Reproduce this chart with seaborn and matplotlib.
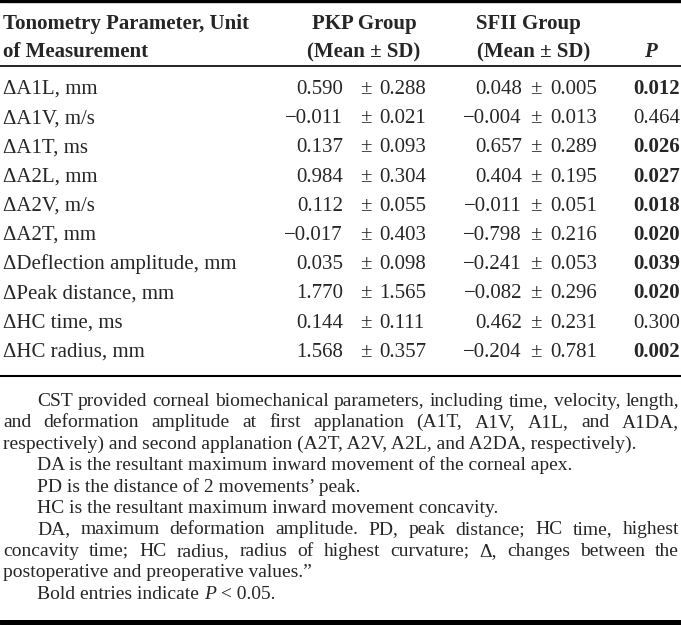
import matplotlib
matplotlib.use("Agg")
import matplotlib.pyplot as plt
import seaborn as sns

sns.set_theme(style="white")
plt.rcParams['font.family'] = ['Liberation Serif', 'DejaVu Serif']

# ---------------- data ----------------
header_param = ["Tonometry Parameter, Unit", "of Measurement"]
header_pkp = ["PKP Group", "(Mean \u00b1 SD)"]
header_sfii = ["SFII Group", "(Mean \u00b1 SD)"]
header_p = "P"

labels = ["\u0394A1L, mm", "\u0394A1V, m/s", "\u0394A1T, ms", "\u0394A2L, mm",
          "\u0394A2V, m/s", "\u0394A2T, mm", "\u0394Deflection amplitude, mm",
          "\u0394Peak distance, mm", "\u0394HC time, ms", "\u0394HC radius, mm"]
pkp_mean = [0.590, -0.011, 0.137, 0.984, 0.112, -0.017, 0.035, 1.770, 0.144, 1.568]
pkp_sd = [0.288, 0.021, 0.093, 0.304, 0.055, 0.403, 0.098, 1.565, 0.111, 0.357]
sfii_mean = [0.048, -0.004, 0.657, 0.404, -0.011, -0.798, -0.241, -0.082, 0.462, -0.204]
sfii_sd = [0.005, 0.013, 0.289, 0.195, 0.051, 0.216, 0.053, 0.296, 0.231, 0.781]
p_values = [0.012, 0.464, 0.026, 0.027, 0.018, 0.020, 0.039, 0.020, 0.300, 0.002]

footnotes = [
    (["CST provided corneal biomechanical parameters, including time, velocity, length,",
      "and deformation amplitude at first applanation (A1T, A1V, A1L, and A1DA,",
      "respectively) and second applanation (A2T, A2V, A2L, and A2DA, respectively)."],
     [True, True, False]),
    (["DA is the resultant maximum inward movement of the corneal apex."], [False]),
    (["PD is the distance of 2 movements\u2019 peak."], [False]),
    (["HC is the resultant maximum inward movement concavity."], [False]),
    (["DA, maximum deformation amplitude. PD, peak distance; HC time, highest",
      "concavity time; HC radius, radius of highest curvature; \u0394, changes between the",
      "postoperative and preoperative values.\u201d"],
     [True, True, False]),
]

# ---------------- figure ----------------
W, H = 681, 625
fig = plt.figure(figsize=(W / 100, H / 100), dpi=100)
ax = fig.add_axes([0, 0, 1, 1])
ax.set_xlim(0, W)
ax.set_ylim(H, 0)
ax.axis('off')

FS = 15.0
FSN = 14.0
LEFT, RIGHT = 3, 679

def fmt(v):
    return f"{v:.3f}".replace("-", "\u2212")

# rules
ax.axhline(1.2, color='black', lw=2.4)
ax.axhline(66, color='black', lw=1.2)
ax.axhline(376, color='black', lw=1.5)
ax.axhline(622, color='black', lw=3.6)

# header
hb = [29, 57]
for i in range(2):
    ax.text(LEFT, hb[i], header_param[i], fontsize=FS, fontweight='bold', va='baseline', ha='left')
    ax.text(364, hb[i], header_pkp[i], fontsize=FS, fontweight='bold', va='baseline', ha='center')
    ax.text(534 if i else 528, hb[i], header_sfii[i], fontsize=FS, fontweight='bold', va='baseline', ha='center')
ax.text(650, hb[1], header_p, fontsize=FS, fontweight='bold', style='italic', va='baseline', ha='center')

# body rows
row0, dy = 94, 29.2
cols = [(pkp_mean, pkp_sd, 343, 365.5, 379), (sfii_mean, sfii_sd, 522, 536, 550)]
for i, lab in enumerate(labels):
    y = row0 + i * dy
    ax.text(LEFT, y, lab, fontsize=FS, va='baseline', ha='left')
    for means, sds, xm, xpm, xsd in cols:
        ax.text(xm, y, fmt(means[i]), fontsize=FS, va='baseline', ha='right')
        ax.text(xpm, y, "\u00b1", fontsize=FS, va='baseline', ha='center')
        ax.text(xsd, y, fmt(sds[i]), fontsize=FS, va='baseline', ha='left')
    ax.text(680, y, fmt(p_values[i]), fontsize=FS, va='baseline', ha='right',
            fontweight='bold' if p_values[i] < 0.05 else 'normal')

# footnotes
fig.canvas.draw()
renderer = fig.canvas.get_renderer()

def width_of(t):
    return t.get_window_extent(renderer=renderer).width

INDENT = 37
fb0, fdy = 406, 21.4
line_idx = 0
for lines, just in footnotes:
    for j, (line, jf) in enumerate(zip(lines, just)):
        y = fb0 + line_idx * fdy
        x0 = INDENT if j == 0 else LEFT
        if jf:
            words = line.split(" ")
            objs = [ax.text(0, y, w, fontsize=FSN, va='baseline', ha='left') for w in words]
            widths = [width_of(o) for o in objs]
            gap = (RIGHT - x0 - sum(widths)) / (len(words) - 1)
            x = x0
            for o, w in zip(objs, widths):
                o.set_x(x)
                x += w + gap
        else:
            ax.text(x0, y, line, fontsize=FSN, va='baseline', ha='left')
        line_idx += 1

y = fb0 + line_idx * fdy
t1 = ax.text(INDENT, y, "Bold entries indicate ", fontsize=FSN, va='baseline', ha='left')
w1 = width_of(t1)
t2 = ax.text(INDENT + w1, y, "P", fontsize=FSN, style='italic', va='baseline', ha='left')
w2 = width_of(t2)
ax.text(INDENT + w1 + w2, y, " < 0.05.", fontsize=FSN, va='baseline', ha='left')

fig.savefig("out.png", dpi=100)
